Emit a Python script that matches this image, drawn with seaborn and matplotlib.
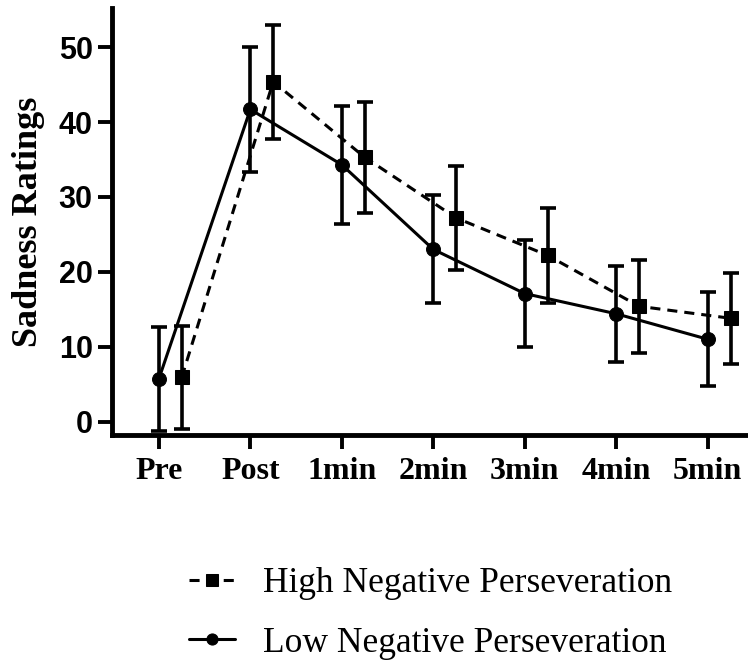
import numpy as np
import pandas as pd
import matplotlib
matplotlib.use("Agg")
import matplotlib.pyplot as plt
import seaborn as sns

# time points
timepoints = ["Pre", "Post", "1min", "2min", "3min", "4min", "5min"]

# group means and standard errors
high_mean = [5.9, 45.4, 35.3, 27.2, 22.2, 15.4, 13.8]
high_err = [6.9, 7.6, 7.4, 7.0, 6.3, 6.2, 6.1]
low_mean = [5.7, 41.7, 34.3, 23.0, 17.1, 14.4, 11.0]
low_err = [6.9, 8.3, 7.9, 7.2, 7.1, 6.4, 6.3]

groups = ["High Negative Perseveration", "Low Negative Perseveration"]
offsets = {groups[0]: 0.25, groups[1]: 0.0}

rows = []
for g, means, errs in [(groups[0], high_mean, high_err), (groups[1], low_mean, low_err)]:
    for i, t in enumerate(timepoints):
        rows.append({"time": t, "group": g, "xpos": i + offsets[g],
                     "mean": means[i], "err": errs[i]})
df = pd.DataFrame(rows)

sns.set_style("ticks")
plt.rcParams["font.family"] = ["Liberation Serif", "DejaVu Serif"]
plt.rcParams.update({"text.color": "black", "axes.labelcolor": "black",
                     "xtick.color": "black", "ytick.color": "black",
                     "axes.edgecolor": "black"})

fig = plt.figure(figsize=(7.48, 6.61), dpi=100)
ax = fig.add_axes([0.150, 0.342, 0.850, 0.646])

sns.lineplot(data=df, x="xpos", y="mean", hue="group", style="group",
             hue_order=groups, style_order=groups,
             palette={groups[0]: "black", groups[1]: "black"},
             markers={groups[0]: "s", groups[1]: "o"},
             dashes={groups[0]: (3.3, 2.3), groups[1]: ""},
             markersize=10, markeredgecolor="black", linewidth=2.2, ax=ax)

for g in groups:
    sub = df[df["group"] == g]
    ax.errorbar(sub["xpos"], sub["mean"], yerr=sub["err"], fmt="none",
                ecolor="black", elinewidth=2.6, capsize=5.5, capthick=2.6, zorder=3)

ax.set_xlim(-0.51, 6.44)
ax.set_ylim(-1.78, 55.25)
ax.set_xticks(range(len(timepoints)))
ax.set_xticklabels(timepoints, fontsize=23, fontweight="bold",
                   family=["Liberation Serif", "DejaVu Serif"])
ax.set_yticks([0, 10, 20, 30, 40, 50])
ax.set_yticklabels(["0", "10", "20", "30", "40", "50"], fontsize=22, fontweight="bold",
                   family=["Liberation Sans", "DejaVu Sans"])
ax.set_xlabel("")
ax.set_ylabel("Sadness Ratings", fontsize=26, fontweight="bold", labelpad=10)

sns.despine(ax=ax)
for s in ["left", "bottom"]:
    ax.spines[s].set_linewidth(3.5)
ax.tick_params(axis="both", length=10, width=2.8, color="black")
ax.tick_params(axis="y", pad=4)
ax.tick_params(axis="x", pad=6)

sns.move_legend(ax, loc="center left", bbox_to_anchor=(0.21, 0.072),
                bbox_transform=fig.transFigure, frameon=False, title=None,
                fontsize=25.5, handlelength=1.3, handletextpad=0.8, labelspacing=0.75)
for h in ax.get_legend().legend_handles:
    h.set_linewidth(2.2)
    h.set_markersize(8)

fig.savefig("out.png", dpi=100)
